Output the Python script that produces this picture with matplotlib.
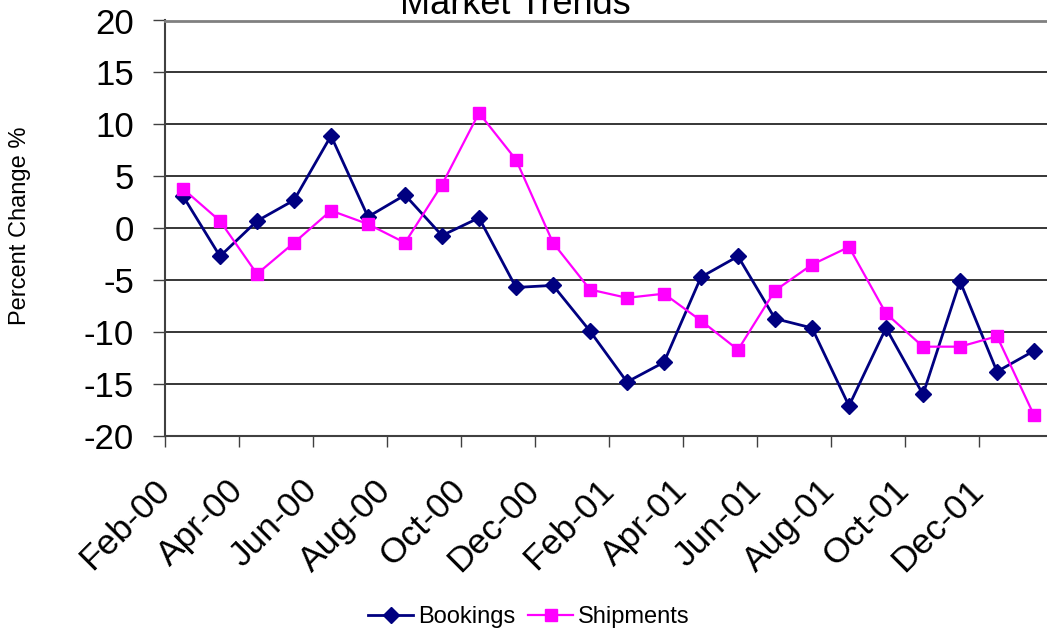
import matplotlib
matplotlib.use("Agg")
import matplotlib.pyplot as plt
from matplotlib.transforms import ScaledTranslation

plt.rcParams['font.family'] = ['Liberation Sans', 'DejaVu Sans']
plt.rcParams['axes.unicode_minus'] = False

# monthly percent change, Feb-00 .. Jan-02
months = ['Feb-00', 'Mar-00', 'Apr-00', 'May-00', 'Jun-00', 'Jul-00',
          'Aug-00', 'Sep-00', 'Oct-00', 'Nov-00', 'Dec-00', 'Jan-01',
          'Feb-01', 'Mar-01', 'Apr-01', 'May-01', 'Jun-01', 'Jul-01',
          'Aug-01', 'Sep-01', 'Oct-01', 'Nov-01', 'Dec-01', 'Jan-02']
bookings = [3.1, -2.7, 0.7, 2.7, 8.9, 1.1, 3.2, -0.7, 1.0, -5.7, -5.5, -9.9,
            -14.8, -12.9, -4.7, -2.7, -8.7, -9.6, -17.1, -9.6, -16.0, -5.1, -13.8, -11.8]
shipments = [3.8, 0.7, -4.4, -1.4, 1.7, 0.4, -1.4, 4.2, 11.1, 6.6, -1.4, -5.9,
             -6.7, -6.3, -8.9, -11.7, -6.0, -3.5, -1.8, -8.2, -11.4, -11.4, -10.4, -18.0]

W, H = 1047, 637
fig = plt.figure(figsize=(W / 100, H / 100), dpi=100)
# plot area runs past the right edge of the figure
ax = fig.add_axes([164.5 / W, (H - 436) / H, 888 / W, 415.5 / H])

x = list(range(len(months)))
ax.plot(x, bookings, color='#000080', lw=2.0, marker='D', ms=8,
        label='Bookings', zorder=3)
ax.plot(x, shipments, color='#FF00FF', lw=1.6, marker='s', ms=9,
        label='Shipments', zorder=3)

ax.set_xlim(-0.5, len(months) - 0.5)
ax.set_ylim(-20, 20)
ax.set_yticks(range(-20, 21, 5))
ax.yaxis.grid(True, color='black', lw=1.1)
ax.set_axisbelow(True)

# labels every other month, tick marks on the category boundaries
ax.set_xticks(x[::2])
ax.set_xticklabels(months[::2], rotation=45, ha='right', va='top')
ax.set_xticks([i - 0.5 for i in x[::2]], minor=True)
ax.tick_params(axis='x', which='major', length=0, pad=27, labelsize=25.5)
ax.tick_params(axis='x', which='minor', length=8, width=1.0, color='#404040')
ax.tick_params(axis='y', length=9, width=1.0, color='#404040', pad=13, labelsize=25)
shift = ScaledTranslation(-7 / 100, 0, fig.dpi_scale_trans)
for lbl in ax.get_xticklabels():
    lbl.set_transform(lbl.get_transform() + shift)

ax.spines['top'].set_color('#808080')
ax.spines['top'].set_linewidth(2)
ax.spines['right'].set_visible(False)
for s in ('left', 'bottom'):
    ax.spines[s].set_color('#404040')
    ax.spines[s].set_linewidth(1.5)

fig.text(515.5 / W, 1 - 14 / H, 'Market Trends', fontsize=26,
         ha='center', va='baseline')
fig.text(20 / W, 1 - 226 / H, 'Percent Change %', fontsize=17,
         rotation=90, ha='center', va='center')

fig.legend(loc='center', bbox_to_anchor=(529 / W, 1 - 617 / H), ncol=2,
           frameon=False, fontsize=17, handlelength=1.9, handletextpad=0.2,
           columnspacing=0.55, borderpad=0)

fig.savefig('out.png', dpi=100)
